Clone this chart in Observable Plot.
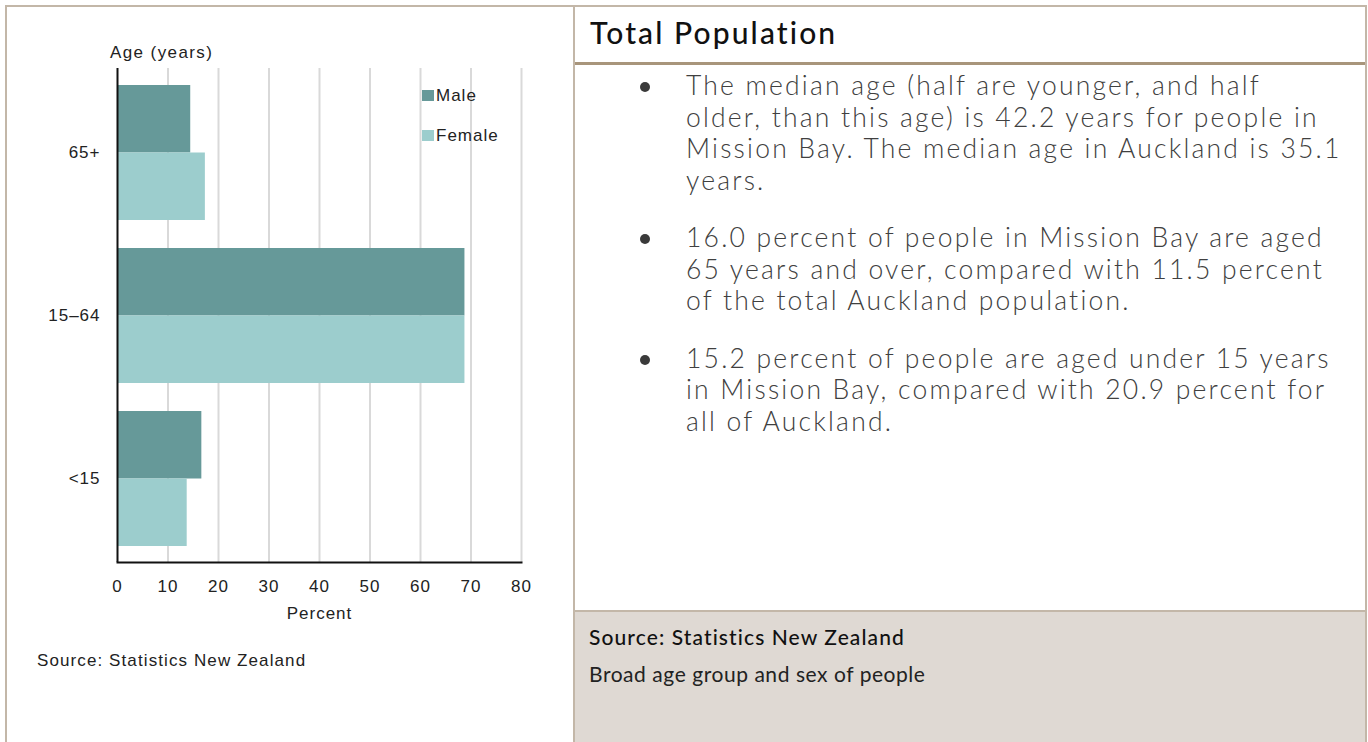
<!DOCTYPE html>
<html>
<head>
<meta charset="utf-8">
<script src="https://cdn.jsdelivr.net/npm/d3@7"></script>
<script src="https://cdn.jsdelivr.net/npm/@observablehq/plot@0.6"></script>
<style>
  html, body { margin: 0; padding: 0; background: #fff; }
  #page { position: relative; width: 1368px; height: 742px; overflow: hidden; background: #fff; }
  .abs { position: absolute; white-space: nowrap; }
  .line { position: absolute; background: #c3b7a8; }
  .chartTxt { font-family: "Liberation Sans", Arial, sans-serif; font-size: 17px; line-height: 17px; letter-spacing: 1px; color: #222; }
  .rp { font-family: Lato, "Noto Sans", sans-serif; }
  #bullets { position: absolute; left: 686px; top: 70px; font-family: Lato, sans-serif; font-weight: 300; font-size: 26.5px; line-height: 31.5px; color: #404040; letter-spacing: 2.2px; }
  #bullets p { margin: 0 0 26px 0; position: relative; white-space: nowrap; }
  #bullets p::before { content: ""; position: absolute; left: -46px; top: 12px; width: 10px; height: 10px; border-radius: 50%; background: #3a3a3a; }
  .sw { position: absolute; width: 12px; height: 11px; }
</style>
</head>
<body>
<div id="page">
  <div class="line" style="left:5px;top:5px;width:1362px;height:2px;"></div>
  <div class="line" style="left:5px;top:5px;width:2px;height:737px;"></div>
  <div class="line" style="left:573px;top:5px;width:2px;height:737px;"></div>
  <div class="line" style="left:1365px;top:5px;width:2px;height:737px;"></div>
  <div class="abs" style="left:575px;top:62px;width:790px;height:3px;background:#a8957b;"></div>
  <div class="abs" style="left:575px;top:610px;width:790px;height:132px;background:#dfd9d3;border-top:2px solid #c3b7a8;"></div>

  <div id="chart" class="abs" style="left:0;top:0;"></div>
  <div id="ylab" class="abs chartTxt" style="left:110px;top:43.6px;letter-spacing:1.4px;"></div>
  <div class="sw" id="sw0" style="left:422px;top:89.5px;"></div>
  <div class="abs chartTxt" id="lg0" style="left:436px;top:87.2px;"></div>
  <div class="sw" id="sw1" style="left:422px;top:129.5px;"></div>
  <div class="abs chartTxt" id="lg1" style="left:436px;top:126.6px;"></div>
  <div id="src" class="abs chartTxt" style="left:37px;top:651.6px;letter-spacing:1.1px;"></div>

  <div id="title" class="abs rp" style="left:590px;top:16.7px;font-size:30px;line-height:30px;font-weight:500;color:#111;letter-spacing:2.1px;"></div>
  <div id="bullets"></div>
  <div id="src2" class="abs rp" style="left:589px;top:626.4px;font-size:21px;line-height:21px;font-weight:500;color:#111;letter-spacing:1.1px;"></div>
  <div id="note" class="abs rp" style="left:589px;top:663.1px;font-size:21px;line-height:21px;font-weight:400;color:#222;letter-spacing:0.55px;"></div>
</div>
<script>
// ---- data ----
const ages = ["65+", "15–64", "<15"];
const sexes = ["Male", "Female"];
const maleValues = [14.5, 68.8, 16.7];
const femaleValues = [17.4, 68.8, 13.8];
const sexColors = ["#669999", "#9ccdcd"];
const xTicks = [0, 10, 20, 30, 40, 50, 60, 70, 80];
const xLabel = "Percent";
const yLabel = "Age (years)";
const chartSource = "Source: Statistics New Zealand";
const panelTitle = "Total Population";
const bulletLines = [
  ["The median age (half are younger, and half", "older, than this age) is 42.2 years for people in", "Mission Bay. The median age in Auckland is 35.1", "years."],
  ["16.0 percent of people in Mission Bay are aged", "65 years and over, compared with 11.5 percent", "of the total Auckland population."],
  ["15.2 percent of people are aged under 15 years", "in Mission Bay, compared with 20.9 percent for", "all of Auckland."]
];
const panelSource = "Source: Statistics New Zealand";
const panelNote = "Broad age group and sex of people";

// ---- chart ----
const rows = ages.flatMap((a, i) => [
  {age: a, sex: sexes[0], value: maleValues[i]},
  {age: a, sex: sexes[1], value: femaleValues[i]}
]);

function make(half) {
  return Plot.plot({
    width: 560,
    height: 640,
    marginTop: 68,
    marginBottom: 78,
    marginLeft: 117,
    marginRight: 39,
    style: {fontFamily: "'Liberation Sans', Arial, sans-serif", fontSize: "17px", color: "#222", letterSpacing: "1px", background: "transparent"},
    x: {domain: [xTicks[0], xTicks[xTicks.length - 1]], label: null},
    y: {domain: ages, paddingInner: 0.174, paddingOuter: 0.098, label: null},
    color: {domain: sexes, range: sexColors},
    marks: [
      Plot.gridX(xTicks.slice(1), {stroke: "#d9d9d9", strokeOpacity: 1, strokeWidth: 2}),
      Plot.barX(rows.filter(d => d.sex === sexes[0]), {x: "value", y: "age", fill: "sex", insetBottom: half}),
      Plot.barX(rows.filter(d => d.sex === sexes[1]), {x: "value", y: "age", fill: "sex", insetTop: half}),
      Plot.ruleX([0], {stroke: "#111", strokeWidth: 2}),
      Plot.frame({anchor: "bottom", stroke: "#111", strokeWidth: 2}),
      Plot.axisX(xTicks, {tickSize: 0, tickPadding: 17, label: xLabel, labelAnchor: "center", labelArrow: "none", labelOffset: 56}),
      Plot.axisY({tickSize: 0, tickPadding: 17, label: null})
    ]
  });
}
const probe = make(0);
const bw = probe.scale("y").bandwidth;
const chart = make(bw / 2);
document.getElementById("chart").appendChild(chart);

document.getElementById("ylab").textContent = yLabel;
document.getElementById("src").textContent = chartSource;
sexes.forEach((s, i) => {
  document.getElementById("sw" + i).style.background = sexColors[i];
  document.getElementById("lg" + i).textContent = s;
});

// ---- right panel ----
document.getElementById("title").textContent = panelTitle;
const ul = document.getElementById("bullets");
bulletLines.forEach(lines => {
  const p = document.createElement("p");
  lines.forEach((l, j) => {
    if (j) p.appendChild(document.createElement("br"));
    p.appendChild(document.createTextNode(l));
  });
  ul.appendChild(p);
});
document.getElementById("src2").textContent = panelSource;
document.getElementById("note").textContent = panelNote;
</script>
</body>
</html>
